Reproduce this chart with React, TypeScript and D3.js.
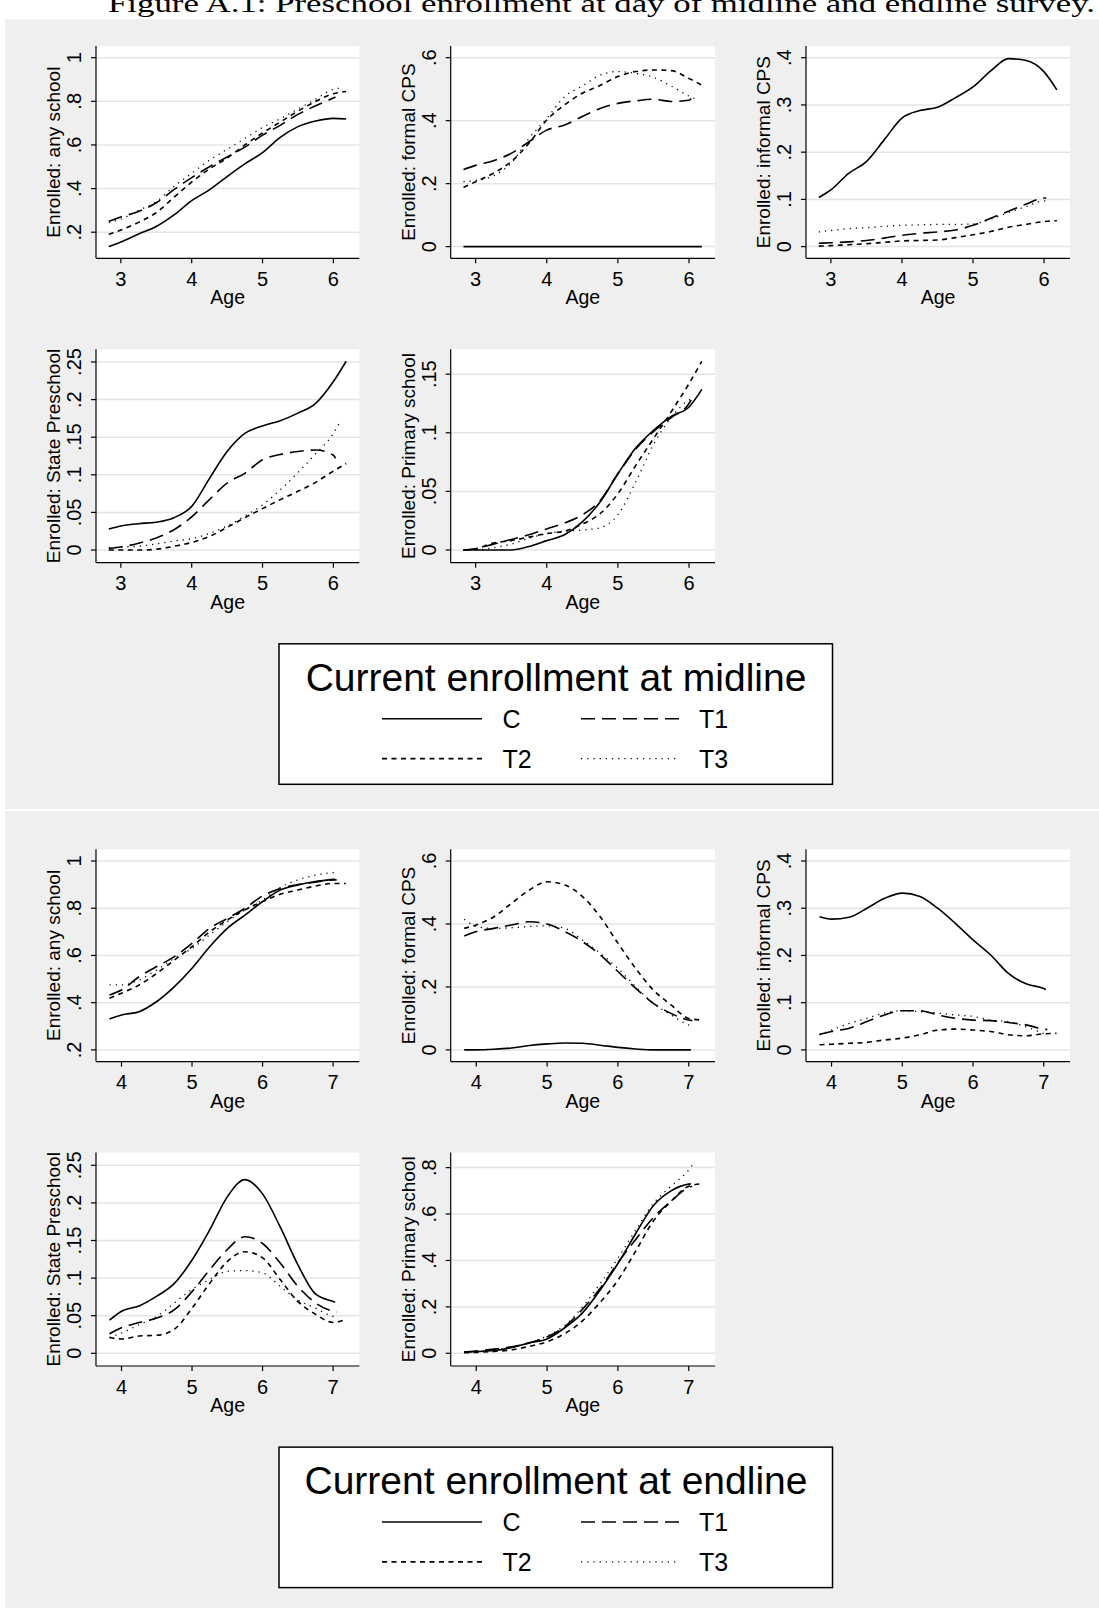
import React from 'react';
import * as d3 from 'd3';

const W = 1099;
const H = 1608;
const FONT = '"Liberation Sans", Arial, Helvetica, sans-serif';

// ---- data -------------------------------------------------------------
const SERIES = ['C', 'T1', 'T2', 'T3'];

// age grid (last point is replaced by each series' own end age)
const MID_AGES = [2.83, 3.0, 3.25, 3.5, 3.75, 4.0, 4.25, 4.5, 4.75, 5.0, 5.25, 5.5, 5.75, 6.0, 6.18];
const END_AGES = [3.83, 4.0, 4.25, 4.5, 4.75, 5.0, 5.25, 5.5, 5.75, 6.0, 6.25, 6.5, 6.75, 7.0, 7.18];
const MID_LAST = [6.18, 6.03, 6.18, 6.08];
const END_LAST = [7.03, 7.05, 7.18, 7.05];

const MID_X_TICKS = [3, 4, 5, 6];
const END_X_TICKS = [4, 5, 6, 7];

const TITLES = [
  'Enrolled: any school',
  'Enrolled: formal CPS',
  'Enrolled: informal CPS',
  'Enrolled: State Preschool',
  'Enrolled: Primary school',
];

const MID_Y_DOMAINS = [[0.134, 1], [0, 0.6], [0, 0.4], [0, 0.25], [0, 0.1604]];
const END_Y_DOMAINS = [[0.2, 1], [0, 0.6], [0, 0.4], [0, 0.25], [0, 0.81]];
const MID_Y_TICKS = [
  [0.2, 0.4, 0.6, 0.8, 1],
  [0, 0.2, 0.4, 0.6],
  [0, 0.1, 0.2, 0.3, 0.4],
  [0, 0.05, 0.1, 0.15, 0.2, 0.25],
  [0, 0.05, 0.1, 0.15],
];
const END_Y_TICKS = [
  [0.2, 0.4, 0.6, 0.8, 1],
  [0, 0.2, 0.4, 0.6],
  [0, 0.1, 0.2, 0.3, 0.4],
  [0, 0.05, 0.1, 0.15, 0.2, 0.25],
  [0, 0.2, 0.4, 0.6, 0.8],
];

// midline: C, T1, T2, T3
const midAny = [
  [0.134, 0.155, 0.192, 0.226, 0.279, 0.345, 0.394, 0.455, 0.513, 0.565, 0.635, 0.684, 0.71, 0.722, 0.719],
  [0.25, 0.27, 0.295, 0.335, 0.395, 0.45, 0.5, 0.545, 0.59, 0.645, 0.69, 0.74, 0.78, 0.815, 0.82],
  [0.19, 0.21, 0.245, 0.29, 0.36, 0.43, 0.49, 0.54, 0.6, 0.655, 0.705, 0.755, 0.8, 0.835, 0.845],
  [0.245, 0.26, 0.3, 0.34, 0.41, 0.47, 0.53, 0.58, 0.63, 0.68, 0.72, 0.765, 0.81, 0.855, 0.86],
];
const midFormal = [
  [0, 0, 0, 0, 0, 0, 0, 0, 0, 0, 0, 0, 0, 0, 0],
  [0.245, 0.258, 0.273, 0.296, 0.333, 0.37, 0.386, 0.413, 0.439, 0.455, 0.463, 0.468, 0.461, 0.465, 0.47],
  [0.188, 0.206, 0.233, 0.27, 0.328, 0.402, 0.45, 0.487, 0.512, 0.54, 0.556, 0.561, 0.559, 0.534, 0.513],
  [0.206, 0.21, 0.225, 0.265, 0.344, 0.407, 0.476, 0.51, 0.545, 0.556, 0.55, 0.538, 0.51, 0.478, 0.47],
];
const midInformal = [
  [0.104, 0.12, 0.155, 0.18, 0.226, 0.272, 0.288, 0.295, 0.315, 0.338, 0.372, 0.398, 0.394, 0.37, 0.332],
  [0.007, 0.008, 0.01, 0.013, 0.018, 0.024, 0.028, 0.031, 0.035, 0.045, 0.06, 0.075, 0.09, 0.103, 0.103],
  [0.001, 0.002, 0.004, 0.006, 0.009, 0.012, 0.013, 0.014, 0.019, 0.025, 0.032, 0.041, 0.047, 0.053, 0.055],
  [0.031, 0.034, 0.038, 0.04, 0.043, 0.045, 0.046, 0.047, 0.047, 0.048, 0.058, 0.072, 0.085, 0.097, 0.092],
];
const midState = [
  [0.028, 0.032, 0.035, 0.037, 0.043, 0.058, 0.095, 0.131, 0.155, 0.165, 0.172, 0.182, 0.195, 0.224, 0.251],
  [0.002, 0.004, 0.009, 0.016, 0.027, 0.044, 0.067, 0.089, 0.102, 0.12, 0.127, 0.131, 0.133, 0.126, 0.122],
  [0, 0, 0, 0.001, 0.005, 0.01, 0.018, 0.03, 0.043, 0.055, 0.067, 0.078, 0.09, 0.105, 0.115],
  [0.003, 0.004, 0.005, 0.008, 0.012, 0.015, 0.022, 0.032, 0.045, 0.06, 0.08, 0.103, 0.128, 0.155, 0.168],
];
const midPrimary = [
  [0, 0, 0, 0, 0.003, 0.008, 0.013, 0.024, 0.041, 0.065, 0.087, 0.102, 0.114, 0.122, 0.137],
  [0, 0.001, 0.005, 0.009, 0.013, 0.018, 0.023, 0.03, 0.042, 0.065, 0.086, 0.101, 0.113, 0.125, 0.128],
  [0, 0.001, 0.006, 0.008, 0.011, 0.014, 0.016, 0.022, 0.031, 0.048, 0.072, 0.095, 0.118, 0.142, 0.161],
  [0, 0, 0.002, 0.005, 0.01, 0.014, 0.016, 0.017, 0.019, 0.03, 0.058, 0.09, 0.113, 0.128, 0.13],
];

// endline: C, T1, T2, T3
const endAny = [
  [0.331, 0.348, 0.362, 0.405, 0.468, 0.546, 0.637, 0.715, 0.771, 0.828, 0.877, 0.898, 0.913, 0.922, 0.923],
  [0.433, 0.454, 0.51, 0.553, 0.595, 0.651, 0.715, 0.757, 0.8, 0.852, 0.884, 0.9, 0.91, 0.92, 0.92],
  [0.419, 0.44, 0.475, 0.524, 0.581, 0.637, 0.7, 0.75, 0.793, 0.828, 0.859, 0.877, 0.894, 0.905, 0.905],
  [0.475, 0.475, 0.496, 0.539, 0.588, 0.63, 0.687, 0.743, 0.793, 0.835, 0.888, 0.92, 0.94, 0.951, 0.952],
];
const endFormal = [
  [0, 0, 0.002, 0.006, 0.014, 0.019, 0.022, 0.021, 0.015, 0.008, 0.003, 0, 0, 0, 0],
  [0.362, 0.376, 0.386, 0.397, 0.407, 0.4, 0.376, 0.344, 0.302, 0.249, 0.196, 0.148, 0.116, 0.095, 0.093],
  [0.386, 0.397, 0.423, 0.466, 0.508, 0.534, 0.524, 0.487, 0.423, 0.339, 0.259, 0.19, 0.143, 0.1, 0.095],
  [0.415, 0.392, 0.386, 0.388, 0.392, 0.394, 0.386, 0.349, 0.307, 0.259, 0.201, 0.148, 0.111, 0.079, 0.075],
];
const endInformal = [
  [0.282, 0.277, 0.281, 0.3, 0.321, 0.332, 0.325, 0.3, 0.268, 0.233, 0.201, 0.162, 0.14, 0.13, 0.128],
  [0.033, 0.039, 0.046, 0.06, 0.074, 0.083, 0.083, 0.074, 0.067, 0.063, 0.062, 0.058, 0.053, 0.044, 0.043],
  [0.011, 0.012, 0.014, 0.016, 0.021, 0.025, 0.032, 0.042, 0.044, 0.042, 0.039, 0.032, 0.03, 0.034, 0.035],
  [0.032, 0.042, 0.056, 0.067, 0.078, 0.083, 0.081, 0.078, 0.074, 0.071, 0.063, 0.06, 0.049, 0.035, 0.033],
];
const endState = [
  [0.044, 0.056, 0.063, 0.076, 0.093, 0.124, 0.164, 0.208, 0.231, 0.212, 0.168, 0.118, 0.079, 0.069, 0.068],
  [0.026, 0.034, 0.041, 0.047, 0.058, 0.082, 0.111, 0.138, 0.155, 0.146, 0.12, 0.089, 0.067, 0.056, 0.055],
  [0.021, 0.019, 0.023, 0.024, 0.032, 0.06, 0.093, 0.122, 0.135, 0.127, 0.098, 0.069, 0.052, 0.041, 0.045],
  [0.021, 0.027, 0.038, 0.049, 0.067, 0.085, 0.098, 0.109, 0.11, 0.107, 0.089, 0.071, 0.06, 0.049, 0.048],
];
const endPrimary = [
  [0.005, 0.008, 0.012, 0.025, 0.045, 0.062, 0.11, 0.174, 0.273, 0.387, 0.515, 0.636, 0.7, 0.729, 0.73],
  [0.005, 0.01, 0.018, 0.028, 0.045, 0.07, 0.115, 0.19, 0.28, 0.39, 0.49, 0.585, 0.655, 0.715, 0.72],
  [0.002, 0.004, 0.008, 0.015, 0.03, 0.05, 0.085, 0.14, 0.22, 0.315, 0.44, 0.57, 0.655, 0.72, 0.73],
  [0.005, 0.008, 0.015, 0.025, 0.045, 0.075, 0.12, 0.2, 0.3, 0.41, 0.53, 0.645, 0.72, 0.79, 0.81],
];

// ---- layout -----------------------------------------------------------
const COLS = [[96, 359.3], [450.7, 715], [806, 1070]];
const ROWS = [[46, 258.3], [349.3, 562.7]];
const ROW_PAD = [11.7, 12.7];
const PAD_X = 12.8;
const END_OFFSET = 803.3;

const DASH: Record<string, string | undefined> = { C: undefined, T1: '14,7', T2: '5,4.5', T3: '1.2,5' };
const WIDTH: Record<string, number> = { C: 1.6, T1: 1.6, T2: 1.6, T3: 1.3 };

const fmt = (v: number) => {
  if (v === 0) return '0';
  if (v === 1) return '1';
  return String(+v.toFixed(2)).replace(/^0\./, '.');
};

const Panel = ({ box, padY, xDomain, xTicks, yDomain, yTicks, title, data, ages, lastAges }: any) => {
  const [x0, x1, y0, y1] = box;
  const xs = d3.scaleLinear().domain(xDomain).range([x0 + PAD_X, x1 - PAD_X]);
  const ys = d3.scaleLinear().domain(yDomain).range([y1 - padY, y0 + padY]);
  const line = d3
    .line<[number, number]>()
    .x((d) => xs(d[0]))
    .y((d) => ys(d[1]))
    .curve(d3.curveMonotoneX);

  return (
    <g>
      <rect x={x0} y={y0} width={x1 - x0} height={y1 - y0} fill="#fff" />
      {yTicks.map((t: number) => (
        <line key={'g' + t} x1={x0} x2={x1} y1={ys(t)} y2={ys(t)} stroke="#e4e4e4" strokeWidth={1.5} />
      ))}
      {data.map((vals: number[], si: number) => {
        const pts = ages.map((a: number, i: number) => [i === ages.length - 1 ? lastAges[si] : a, vals[i]] as [number, number]);
        const s = SERIES[si];
        return (
          <path
            key={s}
            d={line(pts) || ''}
            fill="none"
            stroke="#000"
            strokeWidth={WIDTH[s]}
            strokeDasharray={DASH[s]}
          />
        );
      })}
      {/* axes */}
      <line x1={x0} x2={x0} y1={y0} y2={y1} stroke="#000" strokeWidth={1.2} />
      <line x1={x0} x2={x1} y1={y1} y2={y1} stroke="#000" strokeWidth={1.2} />
      {yTicks.map((t: number) => (
        <g key={'y' + t}>
          <line x1={x0 - 5} x2={x0} y1={ys(t)} y2={ys(t)} stroke="#000" strokeWidth={1.2} />
          <text transform={`translate(${x0 - 15},${ys(t)}) rotate(-90)`} textAnchor="middle" fontSize={20} fontFamily={FONT}>
            {fmt(t)}
          </text>
        </g>
      ))}
      {xTicks.map((t: number) => (
        <g key={'x' + t}>
          <line x1={xs(t)} x2={xs(t)} y1={y1} y2={y1 + 5} stroke="#000" strokeWidth={1.2} />
          <text x={xs(t)} y={y1 + 27.5} textAnchor="middle" fontSize={20} fontFamily={FONT}>
            {t}
          </text>
        </g>
      ))}
      <text x={(x0 + x1) / 2} y={y1 + 46} textAnchor="middle" fontSize={19.5} fontFamily={FONT}>
        Age
      </text>
      <text
        transform={`translate(${x0 - 36},${(y0 + y1) / 2}) rotate(-90)`}
        textAnchor="middle"
        fontSize={19}
        fontFamily={FONT}
      >
        {title}
      </text>
    </g>
  );
};

const Legend = ({ dy, title }: { dy: number; title: string }) => {
  const rowY = [718.7 + dy, 758.6 + dy];
  const lineX = [[382, 482], [581, 680]];
  const labelX = [502.5, 699];
  return (
    <g>
      <rect x={279} y={643.8 + dy} width={553.5} height={140.5} fill="#fff" stroke="#000" strokeWidth={1.5} />
      <text x={556} y={690.6 + dy} textAnchor="middle" fontSize={39} fontFamily={FONT}>
        {title}
      </text>
      {SERIES.map((s, i) => {
        const r = Math.floor(i / 2);
        const c = i % 2;
        return (
          <g key={s}>
            <line
              x1={lineX[c][0]}
              x2={lineX[c][1]}
              y1={rowY[r]}
              y2={rowY[r]}
              stroke="#000"
              strokeWidth={WIDTH[s]}
              strokeDasharray={DASH[s]}
            />
            <text x={labelX[c]} y={rowY[r] + 9} fontSize={25} fontFamily={FONT}>
              {s}
            </text>
          </g>
        );
      })}
    </g>
  );
};

const Block = ({ dy, xDomain, xTicks, yDomains, yTicks, datasets, ages, lastAges, legendTitle }: any) => (
  <g>
    {datasets.map((data: number[][], i: number) => {
      const r = i < 3 ? 0 : 1;
      const c = i % 3;
      const box = [COLS[c][0], COLS[c][1], ROWS[r][0] + dy, ROWS[r][1] + dy];
      return (
        <Panel
          key={i}
          box={box}
          padY={ROW_PAD[r]}
          xDomain={xDomain}
          xTicks={xTicks}
          yDomain={yDomains[i]}
          yTicks={yTicks[i]}
          title={TITLES[i]}
          data={data}
          ages={ages}
          lastAges={lastAges}
        />
      );
    })}
    <Legend dy={dy} title={legendTitle} />
  </g>
);

export default function App() {
  return (
    <svg
      width={W}
      height={H}
      viewBox={`0 0 ${W} ${H}`}
      style={{ position: 'absolute', left: 0, top: 0, display: 'block' }}
    >
      <rect x={0} y={0} width={W} height={H} fill="#fff" />
      <text
        x={108}
        y={12}
        fontSize={26}
        fontFamily='"Liberation Serif", "DejaVu Serif", serif'
        textLength={987}
        lengthAdjust="spacingAndGlyphs"
      >
        Figure A.1: Preschool enrollment at day of midline and endline survey.
      </text>
      <rect x={5} y={19} width={W - 5} height={790} fill="#efefef" />
      <rect x={5} y={811} width={W - 5} height={H - 811} fill="#efefef" />
      <Block
        dy={0}
        xDomain={[2.83, 6.185]}
        xTicks={MID_X_TICKS}
        yDomains={MID_Y_DOMAINS}
        yTicks={MID_Y_TICKS}
        datasets={[midAny, midFormal, midInformal, midState, midPrimary]}
        ages={MID_AGES}
        lastAges={MID_LAST}
        legendTitle="Current enrollment at midline"
      />
      <Block
        dy={END_OFFSET}
        xDomain={[3.82, 7.19]}
        xTicks={END_X_TICKS}
        yDomains={END_Y_DOMAINS}
        yTicks={END_Y_TICKS}
        datasets={[endAny, endFormal, endInformal, endState, endPrimary]}
        ages={END_AGES}
        lastAges={END_LAST}
        legendTitle="Current enrollment at endline"
      />
    </svg>
  );
}
